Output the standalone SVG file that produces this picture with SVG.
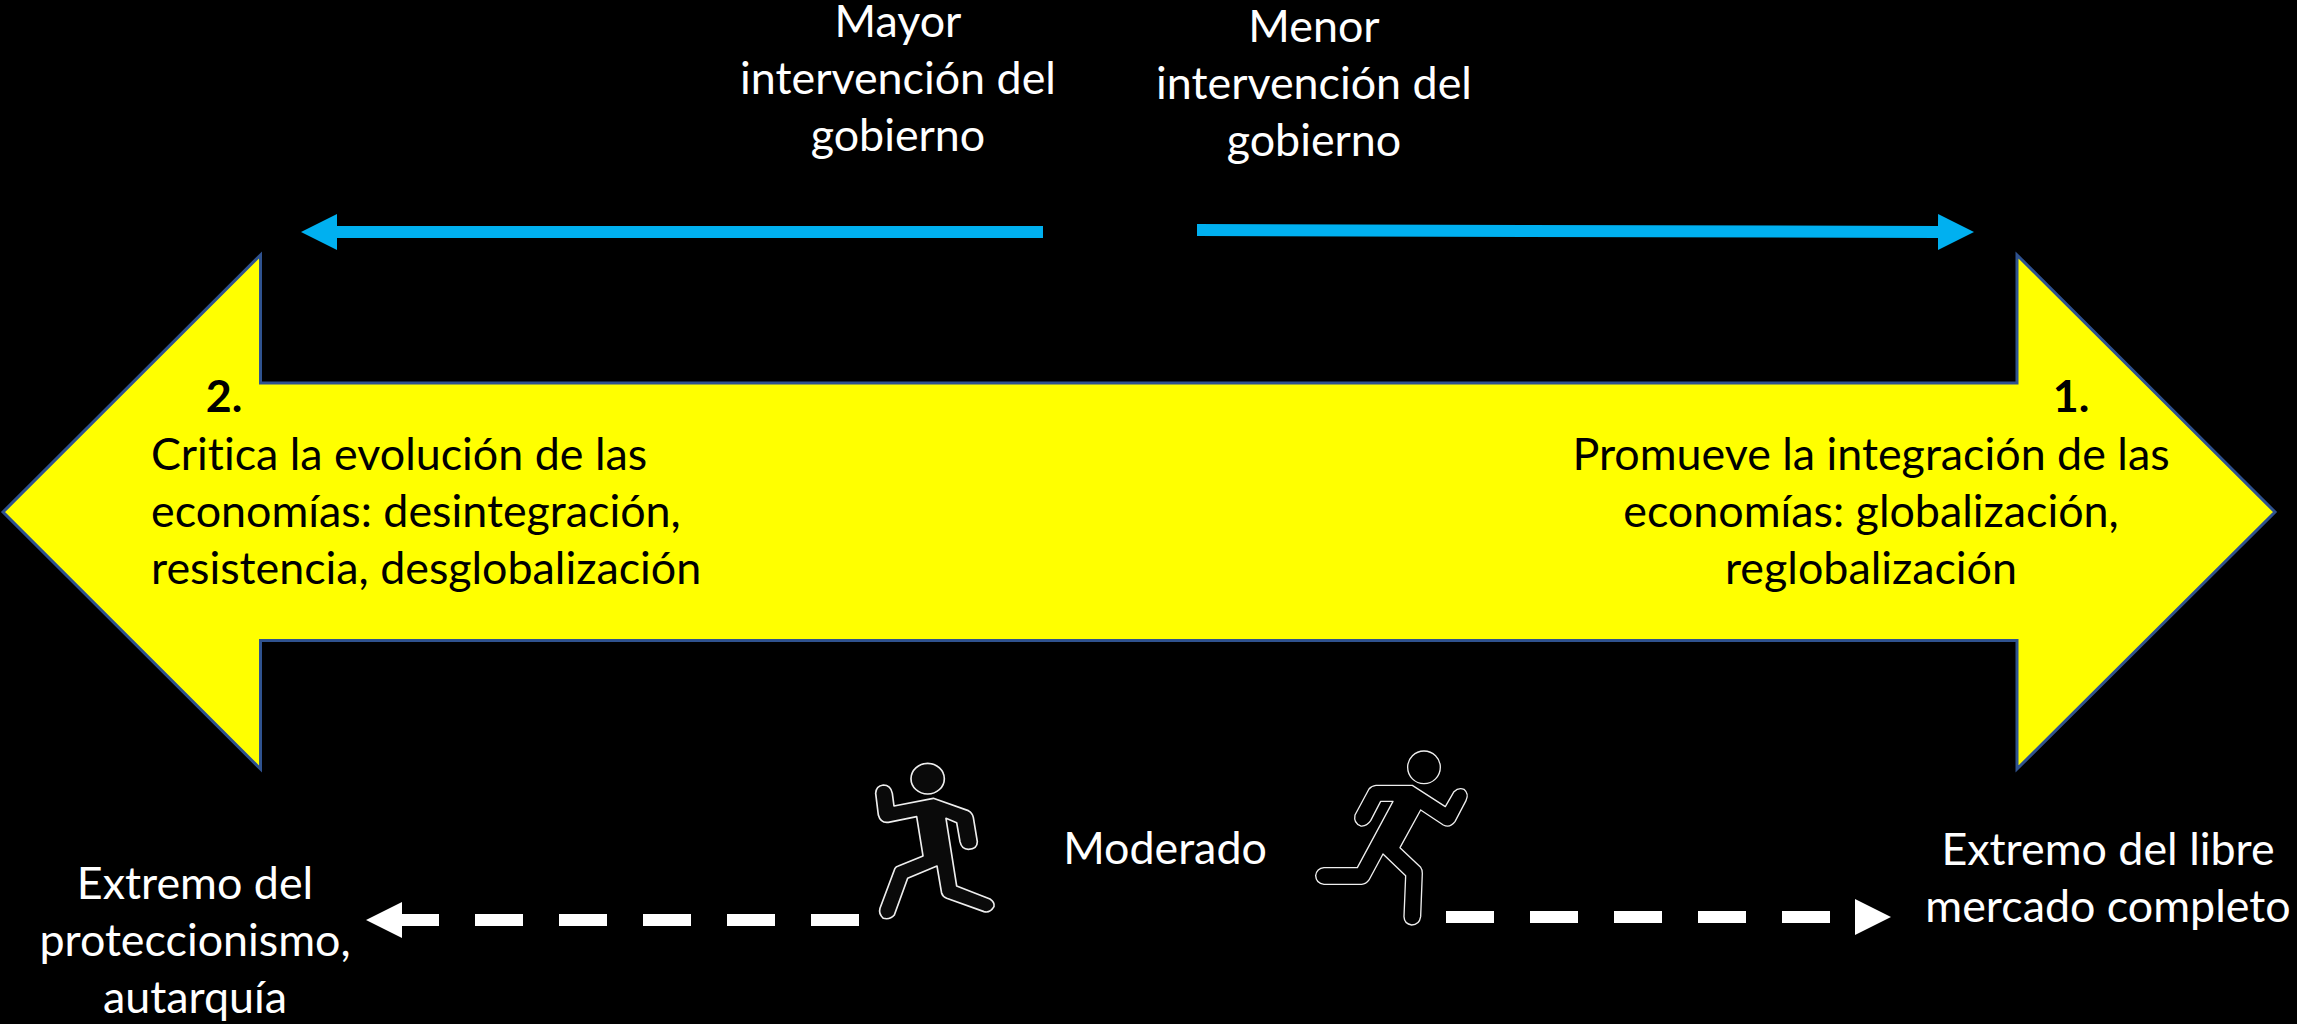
<svg xmlns="http://www.w3.org/2000/svg" width="2297" height="1024" viewBox="0 0 2297 1024">
<style>
text{font-family:"Lato","Carlito","Open Sans",sans-serif;font-size:44.8px;font-variant-ligatures:none}
.w{fill:#fff;text-anchor:middle}
.k{fill:#000}
.m{text-anchor:middle}
.b{font-weight:700}
.fig{fill:#0a0a0a;stroke:#eee;stroke-width:5;stroke-linejoin:round}
.blue{stroke:#00b0f0;stroke-width:12;fill:none}
.dash{stroke:#fff;stroke-width:12;fill:none;stroke-dasharray:48 36}
</style>
<defs>
<marker id="hb" markerUnits="userSpaceOnUse" markerWidth="36" markerHeight="36" refX="0" refY="18" orient="auto"><path d="M0 0L36 18L0 36Z" fill="#00b0f0"/></marker>
<marker id="hw" markerUnits="userSpaceOnUse" markerWidth="36" markerHeight="36" refX="0" refY="18" orient="auto"><path d="M0 0L36 18L0 36Z" fill="#fff"/></marker>
</defs>
<rect width="2297" height="1024" fill="#000"/>
<g id="double-arrow">
<path d="M3 512L260.500 255V383H2017V255L2275 512L2017 769V640.500H260.500V769Z" fill="#ff0" stroke="#2f528f" stroke-width="3" stroke-miterlimit="10"/>
<text class="k b m" x="224" y="412">2.</text>
<text class="k" x="151" y="470">Critica la evolución de las</text>
<text class="k" x="151" y="527">economías: desintegración,</text>
<text class="k" x="151" y="584">resistencia, desglobalización</text>
<text class="k b m" x="2071" y="412">1.</text>
<text class="k m" x="1871" y="470">Promueve la integración de las</text>
<text class="k m" x="1871" y="527">economías: globalización,</text>
<text class="k m" x="1871" y="584">reglobalización</text>
</g>
<g id="label-mayor">
<text class="w" x="898" y="37">Mayor</text>
<text class="w" x="898" y="94">intervención del</text>
<text class="w" x="898" y="151">gobierno</text>
</g>
<g id="label-menor">
<text class="w" x="1314" y="42">Menor</text>
<text class="w" x="1314" y="99">intervención del</text>
<text class="w" x="1314" y="156">gobierno</text>
</g>
<g id="label-proteccionismo">
<text class="w" x="195" y="899">Extremo del</text>
<text class="w" x="195" y="956">proteccionismo,</text>
<text class="w" x="195" y="1013">autarquía</text>
</g>
<g id="label-moderado"><text class="w" x="1165" y="864">Moderado</text></g>
<g id="label-libre">
<text class="w" x="2108" y="865">Extremo del libre</text>
<text class="w" x="2108" y="922">mercado completo</text>
</g>
<g id="runner-left" transform="translate(840 730) scale(.3333)">
<ellipse class="fig" cx="263" cy="146" rx="50" ry="46"/>
<path class="fig" d="M162 228L280 205L385 242Q397 248 400 262L412 335Q412 357 385 358Q365 358 360 335L350 278L318 265L350 468L450 507Q465 517 462 530Q450 550 432 545L320 505Q308 500 305 490L291 408L203 445L163 555Q150 570 130 565Q115 552 120 535L165 415Q168 410 175 408L249 378L230 260L145 277Q122 280 115 255L107 190Q108 168 130 165Q152 165 157 190Z"/>
</g>
<g id="runner-right" transform="translate(1300 730) scale(.3333)">
<circle class="fig" style="stroke-width:4;fill:#000" cx="372" cy="112" r="49"/>
<path class="fig" style="stroke-width:4;fill:#000" d="M337 166L436 230L462 185Q475 172 492 178Q508 192 498 212L465 275Q450 295 430 285L362 240L300 353L362 412Q368 420 367 430L362 560Q358 585 335 585Q313 582 312 560L317 437L249 372L207 450Q198 463 185 463L72 463Q48 460 47 437Q50 415 72 413L172 413L279 214L242 214L212 272Q200 290 182 288Q160 280 165 255L207 177Q215 167 228 166Z"/>
</g>
<g id="connectors">
<path class="blue" d="M1043 232H337" marker-end="url(#hb)"/>
<path class="blue" d="M1197 230L1938 232" marker-end="url(#hb)"/>
<path class="dash" d="M859 920H402" marker-end="url(#hw)"/>
<path class="dash" d="M1446 917H1855" marker-end="url(#hw)"/>
</g>
</svg>
